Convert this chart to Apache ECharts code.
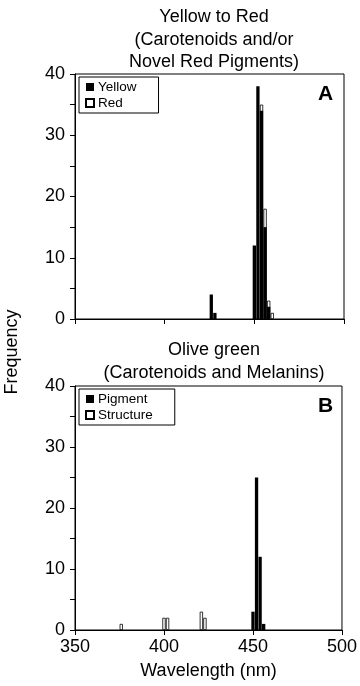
<!DOCTYPE html>
<html>
<head>
<meta charset="utf-8">
<script src="https://cdn.jsdelivr.net/npm/echarts@6/dist/echarts.min.js"></script>
<style>
html,body{margin:0;padding:0;background:#fff;}
#main{width:360px;height:686px;}
</style>
</head>
<body>
<div id="main"></div>
<script>
// Panel A: Yellow to Red (wavelength nm, frequency)
var yellowWl = [426, 428, 450, 452, 454, 456, 458];
var yellowCount = [4, 1, 12, 38, 34, 15, 2];
var redWl = [454, 456, 458, 460];
var redCount = [35, 18, 3, 1];
// Panel B: Olive green
var pigmentWl = [450, 452, 454, 456];
var pigmentCount = [3, 25, 12, 1];
var structureWl = [376, 400, 402, 421, 423];
var structureCount = [1, 2, 2, 3, 2];
var xTicks = [350, 400, 450, 500];
var yTicks = [0, 10, 20, 30, 40];

function pairs(xs, ys) { return xs.map(function (x, i) { return [x, ys[i]]; }); }

var FONT = '"Liberation Sans", Arial, Helvetica, sans-serif';
var chart = echarts.init(document.getElementById('main'), null, {renderer: 'canvas'});

function xAxisCfg(gi, showLabels) {
  return {
    type: 'value', gridIndex: gi, min: xTicks[0], max: xTicks[xTicks.length - 1], interval: 50,
    axisLine: {show: true, onZero: false, lineStyle: {color: '#000', width: 1}},
    axisTick: {show: true, inside: false, length: 5, lineStyle: {color: '#000'}},
    axisLabel: {show: showLabels, color: '#000', fontSize: 18, fontFamily: FONT, margin: 8},
    splitLine: {show: false},
    name: showLabels ? 'Wavelength (nm)' : '',
    nameLocation: 'middle', nameGap: 32,
    nameTextStyle: {color: '#000', fontSize: 18, fontFamily: FONT}
  };
}
function yAxisCfg(gi) {
  return {
    type: 'value', gridIndex: gi, min: yTicks[0], max: yTicks[yTicks.length - 1], interval: 10,
    axisLine: {show: true, lineStyle: {color: '#000', width: 1}},
    axisTick: {show: true, inside: false, length: 5, lineStyle: {color: '#000'}},
    minorTick: {show: true, splitNumber: 2, length: 5, lineStyle: {color: '#000'}},
    axisLabel: {color: '#000', fontSize: 18, fontFamily: FONT, margin: 10},
    splitLine: {show: false}
  };
}
function barSeries(name, data, xi, filled) {
  return {
    name: name, type: 'bar', xAxisIndex: xi, yAxisIndex: xi,
    data: data, barWidth: 3.3, barGap: '-100%',
    z: filled ? 3 : 2,
    itemStyle: filled ? {color: '#000'} : {color: '#fff', borderColor: '#000', borderWidth: 0.8},
    emphasis: {disabled: true}
  };
}
function legendCfg(names, top) {
  return {
    data: names, orient: 'vertical', left: 79, top: top,
    icon: 'rect',
    itemWidth: 8, itemHeight: 8, itemGap: 2,
    padding: [3, 22, 3, 6],
    borderColor: '#000', borderWidth: 1, borderRadius: 0,
    textStyle: {color: '#000', fontSize: 13.5, fontFamily: FONT, padding: [0, 0, 0, -1]},
    selectedMode: false
  };
}

chart.setOption({
  animation: false,
  backgroundColor: '#fff',
  title: [
    {text: 'Yellow to Red\n(Carotenoids and/or\nNovel Red Pigments)', left: 209, top: 1, textAlign: 'center',
     textStyle: {fontSize: 18, fontWeight: 'normal', color: '#000', fontFamily: FONT, lineHeight: 22.5}},
    {text: 'Olive green\n(Carotenoids and Melanins)', left: 209, top: 334, textAlign: 'center',
     textStyle: {fontSize: 18, fontWeight: 'normal', color: '#000', fontFamily: FONT, lineHeight: 22.5}}
  ],
  grid: [
    {left: 75, right: 16, top: 74, height: 245, show: true, borderColor: '#000', borderWidth: 1, backgroundColor: 'transparent'},
    {left: 75, right: 16, top: 386, height: 244, show: true, borderColor: '#000', borderWidth: 1, backgroundColor: 'transparent'}
  ],
  xAxis: [xAxisCfg(0, false), xAxisCfg(1, true)],
  yAxis: [yAxisCfg(0), yAxisCfg(1)],
  legend: [legendCfg(['Yellow', 'Red'], 77), legendCfg(['Pigment', 'Structure'], 389)],
  series: [
    barSeries('Yellow', pairs(yellowWl, yellowCount), 0, true),
    barSeries('Red', pairs(redWl, redCount), 0, false),
    barSeries('Pigment', pairs(pigmentWl, pigmentCount), 1, true),
    barSeries('Structure', pairs(structureWl, structureCount), 1, false)
  ],
  graphic: [
    {type: 'text', left: 318, top: 84, style: {text: 'A', font: 'bold 21px ' + FONT, fill: '#000'}},
    {type: 'text', left: 318, top: 396, style: {text: 'B', font: 'bold 21px ' + FONT, fill: '#000'}},
    {type: 'text', x: 12, y: 352, rotation: Math.PI / 2,
     style: {text: 'Frequency', font: '18px ' + FONT, fill: '#000', align: 'center', verticalAlign: 'middle'}}
  ]
});
</script>
</body>
</html>
